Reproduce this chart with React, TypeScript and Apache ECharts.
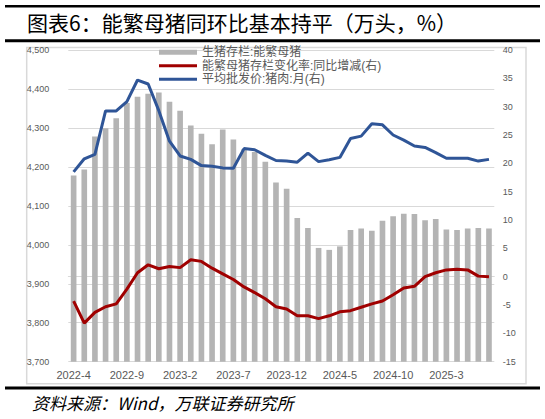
import * as echarts from "echarts"
import { useEffect, useRef } from "react"

// 月份（2022-4 ～ 2025-7）
const months = [
  "2022-4", "2022-5", "2022-6", "2022-7", "2022-8", "2022-9", "2022-10", "2022-11", "2022-12",
  "2023-1", "2023-2", "2023-3", "2023-4", "2023-5", "2023-6", "2023-7", "2023-8", "2023-9",
  "2023-10", "2023-11", "2023-12", "2024-1", "2024-2", "2024-3", "2024-4", "2024-5", "2024-6",
  "2024-7", "2024-8", "2024-9", "2024-10", "2024-11", "2024-12", "2025-1", "2025-2", "2025-3",
  "2025-4", "2025-5", "2025-6", "2025-7",
]

// 生猪存栏:能繁母猪（万头，左轴）
const sowStock = [
  4178, 4193, 4278, 4299, 4325, 4364, 4380, 4388, 4391, 4367, 4344, 4306, 4285, 4258, 4296, 4270,
  4245, 4238, 4213, 4160, 4144, 4069, 4043, 3992, 3987, 3996, 4038, 4042, 4036, 4062, 4073, 4080,
  4079, 4063, 4066, 4039, 4038, 4042, 4043, 4042,
]

// 能繁母猪存栏变化率:同比增减（%，右轴）
const sowYoy = [
  -4.3, -8.2, -6.3, -5.3, -4.8, -2.2, 0.7, 2.1, 1.4, 1.8, 1.6, 3.0, 2.7, 1.5, 0.5, -0.5, -1.8,
  -2.8, -3.9, -5.3, -5.7, -6.9, -6.9, -7.4, -6.9, -6.2, -6.0, -5.4, -4.8, -4.3, -3.2, -2.0, -1.7,
  0.0, 0.7, 1.2, 1.3, 1.2, 0.1, 0.0,
]

// 平均批发价:猪肉:月（元/公斤，右轴）
const porkPrice = [
  18.5, 20.8, 21.6, 29.25, 29.25, 30.9, 34.7, 34.0, 29.3, 23.9, 21.3, 20.7, 19.6, 19.5, 19.2,
  19.15, 22.6, 22.4, 21.4, 20.5, 20.4, 20.2, 21.8, 20.3, 20.65, 21.05, 24.4, 24.8, 27.0, 26.8,
  25.0, 24.1, 23.05, 22.8, 21.9, 20.9, 20.9, 20.9, 20.4, 20.7,
]

const seriesNames = ["生猪存栏:能繁母猪", "能繁母猪存栏变化率:同比增减(右)", "平均批发价:猪肉:月(右)"]

const title = "图表6：能繁母猪同环比基本持平（万头，%）"
const source = "资料来源：Wind，万联证券研究所"

const cjk = "'Noto Sans CJK SC', 'Liberation Sans', sans-serif"
const num = "'Liberation Sans', Arial, sans-serif"
const legendFont = "'Liberation Sans', 'Noto Sans CJK SC', sans-serif"
const labelColor = "#595959"
const gridColor = "#d9d9d9"
const red = "#a00000"
const blue = "#2f5597"
const lineIcon = "path://M0,0H38V3H0Z"

// one legend per row so the rows sit at the reference's spacing
const legendRow = (name: string, top: number, icon: string, color?: string) => ({
  data: [color ? { name, icon, itemStyle: { color } } : { name, icon }],
  orient: "vertical",
  left: 159,
  top,
  itemWidth: 38,
  itemHeight: 5,
  padding: 0,
  selectedMode: false,
  textStyle: { color: labelColor, fontSize: 12, fontFamily: legendFont, lineHeight: 13 },
})

export default function App() {
  const ref = useRef<HTMLDivElement>(null)

  useEffect(() => {
    if (!ref.current) return
    const chart = echarts.init(ref.current, undefined, { renderer: "svg" })

    chart.setOption({
      animation: false,
      backgroundColor: "#fff",
      grid: { left: 68.3, right: 50.7, top: 50, bottom: 57.3 },
      legend: [
        legendRow(seriesNames[0], 45.8, "rect"),
        legendRow(seriesNames[1], 59.2, lineIcon, red),
        legendRow(seriesNames[2], 72.8, lineIcon, blue),
      ],
      xAxis: {
        type: "category",
        data: months,
        boundaryGap: true,
        axisLine: { lineStyle: { color: gridColor, width: 1 } },
        axisTick: { interval: 4, length: 4, lineStyle: { color: gridColor } },
        axisLabel: { interval: 4, color: labelColor, fontSize: 11, fontFamily: num, margin: 8 },
      },
      yAxis: [
        {
          type: "value",
          min: 3700,
          max: 4500,
          interval: 100,
          axisLine: { show: false },
          axisTick: { show: false },
          splitLine: { lineStyle: { color: gridColor, width: 1 } },
          axisLabel: {
            color: labelColor,
            fontSize: 9,
            fontFamily: num,
            margin: 19,
            formatter: (v: number) => v.toLocaleString("en-US"),
          },
        },
        {
          type: "value",
          min: -15,
          max: 40,
          interval: 5,
          axisLine: { show: false },
          axisTick: { show: false },
          splitLine: { show: false },
          axisLabel: { color: labelColor, fontSize: 9, fontFamily: num, margin: 8.5 },
        },
      ],
      series: [
        {
          name: seriesNames[0],
          type: "bar",
          data: sowStock,
          barWidth: "53%",
          itemStyle: { color: "#b4b4b4" },
          z: 1,
        },
        {
          name: seriesNames[1],
          type: "line",
          yAxisIndex: 1,
          data: sowYoy,
          symbol: "none",
          lineStyle: { color: red, width: 3 },
          itemStyle: { color: red },
          z: 3,
        },
        {
          name: seriesNames[2],
          type: "line",
          yAxisIndex: 1,
          data: porkPrice,
          symbol: "none",
          lineStyle: { color: blue, width: 3 },
          itemStyle: { color: blue },
          z: 3,
        },
      ],
      graphic: [
        { type: "line", shape: { x1: 5, y1: 6.3, x2: 540, y2: 6.3 }, style: { stroke: "#000", lineWidth: 2.5 } },
        { type: "line", shape: { x1: 5, y1: 40.8, x2: 540, y2: 40.8 }, style: { stroke: "#000", lineWidth: 3 } },
        {
          type: "rect",
          shape: { x: 26.7, y: 47.5, width: 499.3, height: 336.2 },
          style: { fill: "none", stroke: gridColor, lineWidth: 1.5 },
          z: -1,
        },
        { type: "line", shape: { x1: 5, y1: 388, x2: 540, y2: 388 }, style: { stroke: "#000", lineWidth: 3 } },
        {
          type: "text",
          x: 27,
          y: 22,
          style: { text: title, fill: "#000", fontSize: 21, fontFamily: cjk, verticalAlign: "middle" },
        },
        {
          type: "text",
          x: 32,
          y: 402,
          style: {
            text: source,
            fill: "#000",
            fontSize: 17,
            fontStyle: "italic",
            fontFamily: cjk,
            verticalAlign: "middle",
          },
        },
      ],
    })

    return () => chart.dispose()
  }, [])

  return <div ref={ref} style={{ position: "fixed", left: 0, top: 0, width: 545, height: 419 }} />
}
